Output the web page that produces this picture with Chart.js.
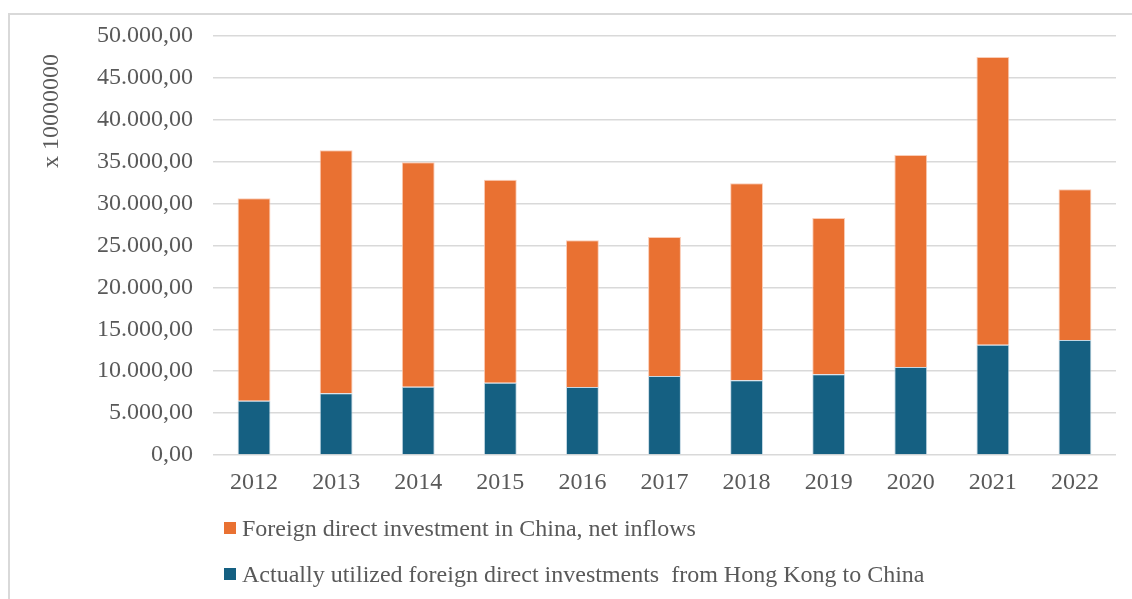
<!DOCTYPE html>
<html>
<head>
<meta charset="utf-8">
<script src="https://cdn.jsdelivr.net/npm/chart.js@4.4.1/dist/chart.umd.min.js"></script>
<style>
  html, body { margin: 0; padding: 0; background: #fff; }
  body { width: 1132px; height: 599px; position: relative; overflow: hidden; }
  #frame {
    position: absolute; left: 8px; top: 13px; width: 1200px; height: 700px;
    border-left: 2px solid #d9d9d9; border-top: 2px solid #d9d9d9;
  }
  #wrap { position: absolute; left: 0; top: 0; width: 1132px; height: 599px; }
  #legend {
    position: absolute; left: 224px; top: 505px;
    font-family: "Liberation Serif", "Times New Roman", serif;
    font-size: 24px; color: #595959;
  }
  #legend .item { height: 46px; line-height: 30px; white-space: pre; display: flex; align-items: center; }
  #legend .box { width: 12px; height: 12px; margin-right: 6px; flex: none; }
</style>
</head>
<body>
<div id="frame"></div>
<div id="wrap"><canvas id="fdiChart" width="1132" height="599"></canvas></div>
<div id="legend"></div>
<script>
const years = ['2012', '2013', '2014', '2015', '2016', '2017', '2018', '2019', '2020', '2021', '2022'];

// x 10 million USD
const hongKongFdi = [6480, 7360, 8150, 8630, 8110, 9430, 8910, 9630, 10500, 13160, 13720];
const netInflows = [24150, 29000, 26780, 24220, 17510, 16580, 23510, 18650, 25300, 34330, 17980];

const yTicks = [0, 5000, 10000, 15000, 20000, 25000, 30000, 35000, 40000, 45000, 50000];
const axisTitle = 'x 10000000';

const textColor = '#595959';
const gridColor = '#d9d9d9';
const serif = '"Liberation Serif", "Times New Roman", serif';

// 50000 -> "50.000,00"
function formatNumber(v) {
  const parts = v.toFixed(2).split('.');
  const whole = parts[0].replace(/\B(?=(\d{3})+(?!\d))/g, '.');
  return whole + ',' + parts[1];
}

const axisTitlePlugin = {
  id: 'axisTitle',
  afterDraw(chart) {
    const ctx = chart.ctx;
    const area = chart.chartArea;
    ctx.save();
    ctx.translate(area.left - 161, area.top + 75);
    ctx.rotate(-Math.PI / 2);
    ctx.font = '24px ' + serif;
    ctx.fillStyle = textColor;
    ctx.textAlign = 'center';
    ctx.textBaseline = 'middle';
    ctx.fillText(axisTitle, 0, 0);
    ctx.restore();
  }
};

const ctx = document.getElementById('fdiChart').getContext('2d');
const chart = new Chart(ctx, {
  type: 'bar',
  data: {
    labels: years,
    datasets: [
      {
        label: 'Actually utilized foreign direct investments  from Hong Kong to China',
        data: hongKongFdi,
        backgroundColor: '#156082',
        borderColor: 'rgba(180, 205, 220, 0.8)',
        borderWidth: 1,
        categoryPercentage: 0.8,
        barPercentage: 0.5
      },
      {
        label: 'Foreign direct investment in China, net inflows',
        data: netInflows,
        backgroundColor: '#e97132',
        borderColor: 'rgba(250, 200, 175, 0.9)',
        borderWidth: 1,
        categoryPercentage: 0.8,
        barPercentage: 0.5
      }
    ]
  },
  options: {
    responsive: false,
    animation: false,
    layout: { padding: { left: 0, top: 36, right: 16, bottom: 0 } },
    plugins: {
      legend: { display: false },
      tooltip: { enabled: false }
    },
    scales: {
      x: {
        stacked: true,
        grid: { display: false },
        border: { display: false },
        ticks: {
          color: textColor,
          font: { family: serif, size: 24 },
          padding: 5,
          maxRotation: 0
        },
        afterFit(scale) { scale.height = 144; }
      },
      y: {
        stacked: true,
        min: 0,
        max: 50000,
        afterBuildTicks(scale) { scale.ticks = yTicks.map(v => ({ value: v })); },
        grid: { color: gridColor, lineWidth: 1.5, drawTicks: false },
        border: { display: false },
        ticks: {
          color: textColor,
          font: { family: serif, size: 24 },
          padding: 20,
          callback: v => formatNumber(v)
        },
        afterFit(scale) { scale.width = 213; }
      }
    }
  },
  plugins: [axisTitlePlugin]
});

// legend lists the top segment first
const legend = document.getElementById('legend');
chart.data.datasets.slice().reverse().forEach(ds => {
  const item = document.createElement('div');
  item.className = 'item';
  const box = document.createElement('span');
  box.className = 'box';
  box.style.background = ds.backgroundColor;
  const label = document.createElement('span');
  label.textContent = ds.label;
  item.appendChild(box);
  item.appendChild(label);
  legend.appendChild(item);
});
</script>
</body>
</html>
